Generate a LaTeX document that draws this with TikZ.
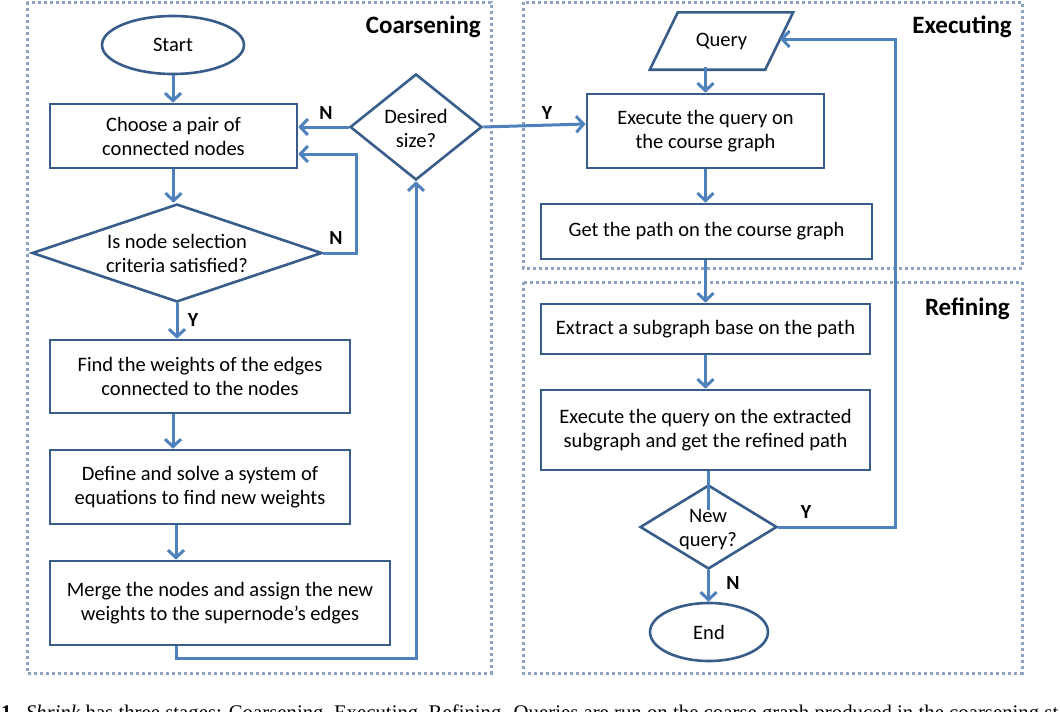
\documentclass[tikz,border=0pt]{standalone}
\usepackage{fontspec}
\setmainfont{Carlito}
\newfontfamily\capfont{Liberation Serif}
\usetikzlibrary{shapes.geometric,arrows.meta}
\definecolor{boxc}{RGB}{56,93,138}
\definecolor{arrc}{RGB}{79,129,189}
\definecolor{dotc}{RGB}{142,162,194}
\newcommand\nodefont{\fontsize{20.5}{24}\selectfont}
\begin{document}
\begin{tikzpicture}[x=1pt,y=-1pt,
  proc/.style={draw=boxc,line width=2.6pt,fill=white,align=center,inner sep=0pt,font=\nodefont},
  term/.style={ellipse,draw=boxc,line width=2.6pt,fill=white,inner sep=0pt,font=\nodefont},
  dia/.style={diamond,draw=boxc,line width=2.6pt,fill=white,inner sep=0pt},
  txt/.style={align=center,inner sep=0pt,font=\nodefont},
  arr/.style={draw=arrc,line width=3pt,-{Straight Barb[length=7.5pt,width=16pt,line width=3pt]}},
  ln/.style={draw=arrc,line width=3pt},
  frame/.style={draw=dotc,line width=3pt,dash pattern=on 3pt off 3pt},
  yn/.style={font=\fontsize{20}{24}\selectfont\bfseries,inner sep=0pt},
  stage/.style={font=\fontsize{25}{28}\selectfont\bfseries,inner sep=0pt,anchor=east}]
\useasboundingbox (0,0) rectangle (1060,712);
% frames
\draw[frame] (27,2) rectangle (491,673);
\draw[frame] (523,2) rectangle (1022,268);
\draw[frame] (523,282) rectangle (1022,673);
\node[stage] (lc) at (481,27) {Coarsening};
\node[stage] (le) at (1012,27) {Executing};
\node[stage] (lr) at (1010,309) {Refining};
% coarsening nodes
\node[term,minimum width=142,minimum height=58] (st) at (173,45) {Start};
\node[proc,minimum width=247,minimum height=64] (ch) at (173.5,136) {Choose a pair of\\connected nodes};
\node[dia,minimum width=132,minimum height=106] (ds) at (416,127) {};
\node[txt] (dst) at (416,128) {Desired\\size?};
\node[dia,minimum width=290,minimum height=98] (isn) at (177,253) {};
\node[txt] (isnt) at (177,253) {Is node selection\\criteria satisfied?};
\node[proc,minimum width=300,minimum height=73] (fw) at (200,376.5) {Find the weights of the edges\\connected to the nodes};
\node[proc,minimum width=300,minimum height=74] (df) at (200,487) {Define and solve a system of\\equations to find new weights};
\node[proc,minimum width=340,minimum height=84] (mg) at (220,603) {Merge the nodes and assign the new\\weights to the supernode’s edges};
% executing nodes
\node[inner sep=0pt,font=\nodefont,minimum width=143,minimum height=57] (q) at (721.5,41) {Query};
\draw[draw=boxc,line width=2.6pt,line join=miter,yshift=2.5pt]
  (q.south west) -- ([xshift=28pt]q.north west) -- (q.north east) -- ([xshift=-28pt]q.south east) -- cycle;
\coordinate (qin) at (780,39);
\coordinate (qout) at (705.5,67);
\node[proc,minimum width=237,minimum height=74] (ex) at (705.5,131) {Execute the query on\\the course graph};
\node[proc,minimum width=331,minimum height=55] (gp) at (706.5,231.5) {Get the path on the course graph};
% refining nodes
\node[proc,minimum width=329,minimum height=50] (xt) at (705.5,329) {Extract a subgraph base on the path};
\node[proc,minimum width=329,minimum height=80] (e2) at (705.5,430) {Execute the query on the extracted\\subgraph and get the refined path};
\node[dia,minimum width=137,minimum height=84] (nq) at (708.5,527) {};
\node[txt] (nqt) at (708,530) {New\\query?};
\node[term,minimum width=118,minimum height=58] (en) at (709,632) {End};
\coordinate (nqin) at (708,510);
% connectors coarsening
\draw[arr] (st.south) -- (ch.north -| st);
\draw[arr] (ch.south) -- (ch.south |- isn.north);
\draw[arr] (isn.east) -- (356,253) |- ([yshift=-18pt]ch.east);
\draw[arr] (ds.west) -- (ds.west -| ch.east);
\draw[arr] (isn.south) -- (isn.south |- fw.north);
\draw[arr] (fw.south -| st) -- (df.north -| st);
\draw[arr] ([xshift=-44pt]df.south -| mg) -- ([xshift=-44pt]mg.north);
\draw[arr] ([xshift=-44pt]mg.south) -- ++(0,12) -| (ds.south);
\draw[arr] (ds.east) -- ([yshift=7pt]ex.west);
% connectors executing / refining
\draw[arr] (qout) -- (ex.north);
\draw[arr] (ex.south) -- (gp.north -| ex);
\draw[arr] (gp.south -| ex) -- (xt.north -| ex);
\draw[arr] (xt.south -| ex) -- (e2.north -| ex);
\draw[ln] (e2.south -| nqin) -- (nqin);
\draw[arr] (nq.south) -- (nq.south |- en.north);
\draw[arr] (nq.east) -- (895,527) |- (qin);
% labels
\node[yn] (n1) at (326,113) {N};
\node[yn] (n2) at (336,238) {N};
\node[yn] (y1) at (193,320) {Y};
\node[yn] (y2) at (547,113) {Y};
\node[yn] (y3) at (806,512) {Y};
\node[yn] (n3) at (733,583) {N};
% caption
\begin{scope}
\clip (0,0) rectangle (1060,712);
\node[anchor=base west,inner sep=0pt,font=\capfont\fontsize{20.8}{22}\selectfont] (cap) at (1,719)
 {\textbf{1.}\hspace{9pt}\textit{Shrink} has three stages: Coarsening, Executing, Refining. Queries are run on the coarse graph produced in the coarsening stage.};
\end{scope}
\end{tikzpicture}
\end{document}
